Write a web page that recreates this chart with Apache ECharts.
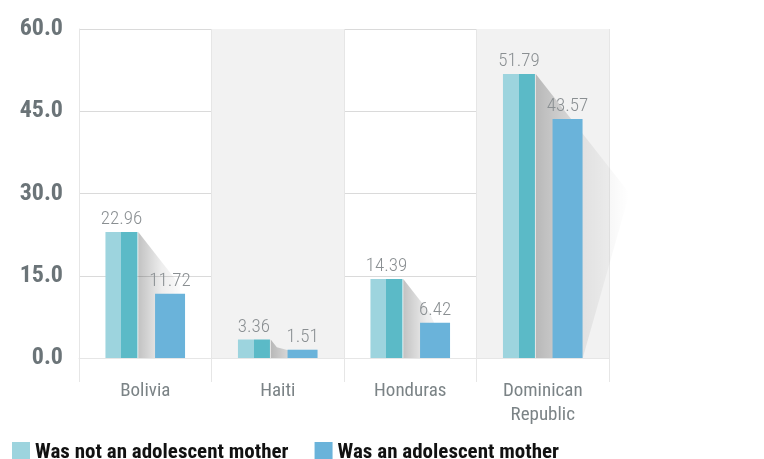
<!DOCTYPE html>
<html>
<head>
<meta charset="utf-8">
<script src="https://cdn.jsdelivr.net/npm/echarts@6/dist/echarts.min.js"></script>
<style>html,body{margin:0;padding:0;background:#fff}#c{width:764px;height:459px}</style>
</head>
<body>
<div id="c"></div>
<script>
const categories = ['Bolivia', 'Haiti', 'Honduras', 'Dominican\nRepublic'];
const notAdolescent = [22.96, 3.36, 14.39, 51.79];
const adolescent = [11.72, 1.51, 6.42, 43.57];
const seriesNames = ['Was not an adolescent mother', 'Was an adolescent mother'];
const yTicks = { min: 0, max: 60, interval: 15 };

const NARROW = "'Liberation Sans Narrow', 'Roboto Condensed', 'Roboto', sans-serif";
const chart = echarts.init(document.getElementById('c'), null, { renderer: 'canvas' });

const shadowData = categories.map((c, i) => [i, notAdolescent[i], adolescent[i]]);

chart.setOption({
  animation: false,
  backgroundColor: '#ffffff',
  grid: { left: 79, right: 155, top: 29, bottom: 101, containLabel: false },
  legend: {
    left: 7, top: 437,
    itemWidth: 18, itemHeight: 21, itemGap: 26,
    icon: 'rect',
    textStyle: { fontFamily: NARROW, fontWeight: 'bold', fontSize: 21, color: '#111' },
    data: [
      { name: seriesNames[0], itemStyle: { color: '#9dd4de' } },
      { name: seriesNames[1], itemStyle: { color: '#6ab3da' } }
    ]
  },
  xAxis: {
    type: 'category',
    data: categories,
    axisLine: { show: true, lineStyle: { color: '#e6e6e6' } },
    axisTick: { show: true, length: 24, lineStyle: { color: '#e6e6e6' } },
    splitLine: { show: true, lineStyle: { color: '#e6e6e6' } },
    splitArea: { show: true, areaStyle: { color: ['rgba(0,0,0,0)', '#f2f2f2'] } },
    axisLabel: { fontFamily: NARROW, fontSize: 19, color: '#7b8386', margin: 21, lineHeight: 24 }
  },
  yAxis: {
    type: 'value',
    min: yTicks.min, max: yTicks.max, interval: yTicks.interval,
    axisLine: { show: true, lineStyle: { color: '#e6e6e6' } },
    axisTick: { show: false },
    splitLine: { lineStyle: { color: '#dadada' } },
    axisLabel: { fontFamily: NARROW, fontWeight: 'bold', fontSize: 24, color: '#6b7478', margin: 16,
      formatter: v => v.toFixed(1) }
  },
  series: [
    {
      type: 'custom',
      z: 1,
      silent: true,
      clip: false,
      data: shadowData,
      encode: { x: 0, y: 1 },
      renderItem: function (params, api) {
        const i = api.value(0);
        const top = api.coord([i, api.value(1)]);
        const base = api.coord([i, 0]);
        const xR = top[0] - 7;
        const yTop = top[1];
        const h = base[1] - yTop;
        const blueR = top[0] + 40;
        const pts = [[xR, yTop], [xR + 0.33 * h, yTop + 0.42 * h], [blueR, base[1]], [xR, base[1]]];
        return {
          type: 'polygon',
          shape: { points: pts },
          style: {
            fill: new echarts.graphic.LinearGradient(0, 0, 1, 0, [
              { offset: 0, color: 'rgba(0,0,0,0.24)' },
              { offset: 0.5, color: 'rgba(0,0,0,0.07)' },
              { offset: 1, color: 'rgba(0,0,0,0.0)' }
            ])
          }
        };
      }
    },
    {
      name: seriesNames[0],
      type: 'bar',
      z: 2,
      barWidth: 32,
      barGap: '55%',
      data: notAdolescent,
      itemStyle: {
        color: new echarts.graphic.LinearGradient(0, 0, 1, 0, [
          { offset: 0, color: '#9dd4de' },
          { offset: 0.5, color: '#9dd4de' },
          { offset: 0.5, color: '#5bbac7' },
          { offset: 1, color: '#5bbac7' }
        ])
      },
      label: { show: true, position: 'top', distance: 3, fontFamily: NARROW, fontWeight: 300, fontSize: 19, color: '#8a8f92',
        formatter: p => p.value.toFixed(2) }
    },
    {
      name: seriesNames[1],
      type: 'bar',
      z: 2,
      barWidth: 30,
      data: adolescent,
      itemStyle: { color: '#6ab3da' },
      label: { show: true, position: 'top', distance: 3, fontFamily: NARROW, fontWeight: 300, fontSize: 19, color: '#8a8f92',
        formatter: p => p.value.toFixed(2) }
    }
  ]
});
</script>
</body>
</html>
